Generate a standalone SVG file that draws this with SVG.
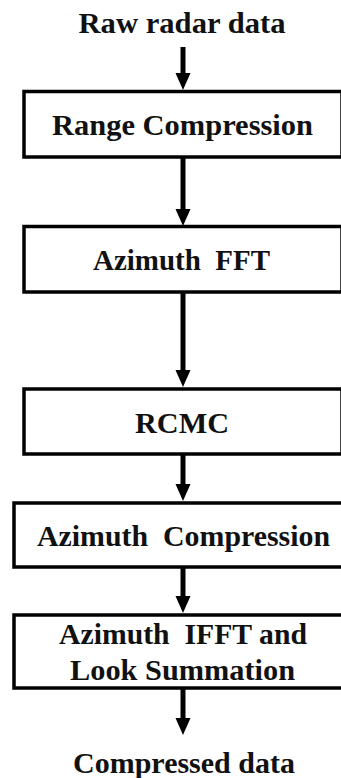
<svg xmlns="http://www.w3.org/2000/svg" width="341" height="778" viewBox="0 0 341 778">
<defs>
<style>
.box{fill:#fff;stroke:#000;stroke-width:3.5}
.t{font-family:'Liberation Serif','Times New Roman',serif;font-weight:700;font-size:29px;fill:#111;text-anchor:middle}
.c{stroke:#000;stroke-width:5;fill:none}
</style>
</defs>
<rect width="341" height="778" fill="#fff"/>
<g id="connectors">
<line class="c" x1="183" y1="47" x2="183" y2="75"/><path d="M175.5,73 L190.5,73 L183,90 Z"/>
<line class="c" x1="183" y1="158" x2="183" y2="211"/><path d="M175.5,209 L190.5,209 L183,226 Z"/>
<line class="c" x1="183" y1="293" x2="183" y2="372"/><path d="M175.5,370 L190.5,370 L183,387 Z"/>
<line class="c" x1="183" y1="455" x2="183" y2="486"/><path d="M175.5,484 L190.5,484 L183,501 Z"/>
<line class="c" x1="183" y1="568" x2="183" y2="598"/><path d="M175.5,596 L190.5,596 L183,613 Z"/>
<line class="c" x1="183" y1="689" x2="183" y2="720"/><path d="M175.5,718 L190.5,718 L183,735 Z"/>
</g>
<g id="input"><text class="t" x="182" y="33" textLength="207" lengthAdjust="spacingAndGlyphs">Raw radar data</text></g>
<g id="range-compression"><rect class="box" x="24" y="91.5" width="318" height="65.5"/><text class="t" x="182.5" y="135" textLength="261" lengthAdjust="spacingAndGlyphs">Range Compression</text></g>
<g id="azimuth-fft"><rect class="box" x="24" y="226.5" width="318" height="65.5"/><text class="t" x="181.5" y="270" textLength="177" lengthAdjust="spacingAndGlyphs" xml:space="preserve">Azimuth  FFT</text></g>
<g id="rcmc"><rect class="box" x="24" y="389" width="318" height="65"/><text class="t" x="182" y="433" textLength="94" lengthAdjust="spacingAndGlyphs">RCMC</text></g>
<g id="azimuth-compression"><rect class="box" x="14" y="503" width="338" height="64"/><text class="t" x="183.5" y="546" textLength="293" lengthAdjust="spacingAndGlyphs" xml:space="preserve">Azimuth  Compression</text></g>
<g id="azimuth-ifft"><rect class="box" x="14" y="615" width="338" height="73"/><text class="t" x="183" y="644" textLength="248" lengthAdjust="spacingAndGlyphs" xml:space="preserve">Azimuth  IFFT and</text><text class="t" x="182.5" y="680" textLength="225" lengthAdjust="spacingAndGlyphs">Look Summation</text></g>
<g id="output"><text class="t" x="184" y="773" textLength="222" lengthAdjust="spacingAndGlyphs">Compressed data</text></g>
</svg>
